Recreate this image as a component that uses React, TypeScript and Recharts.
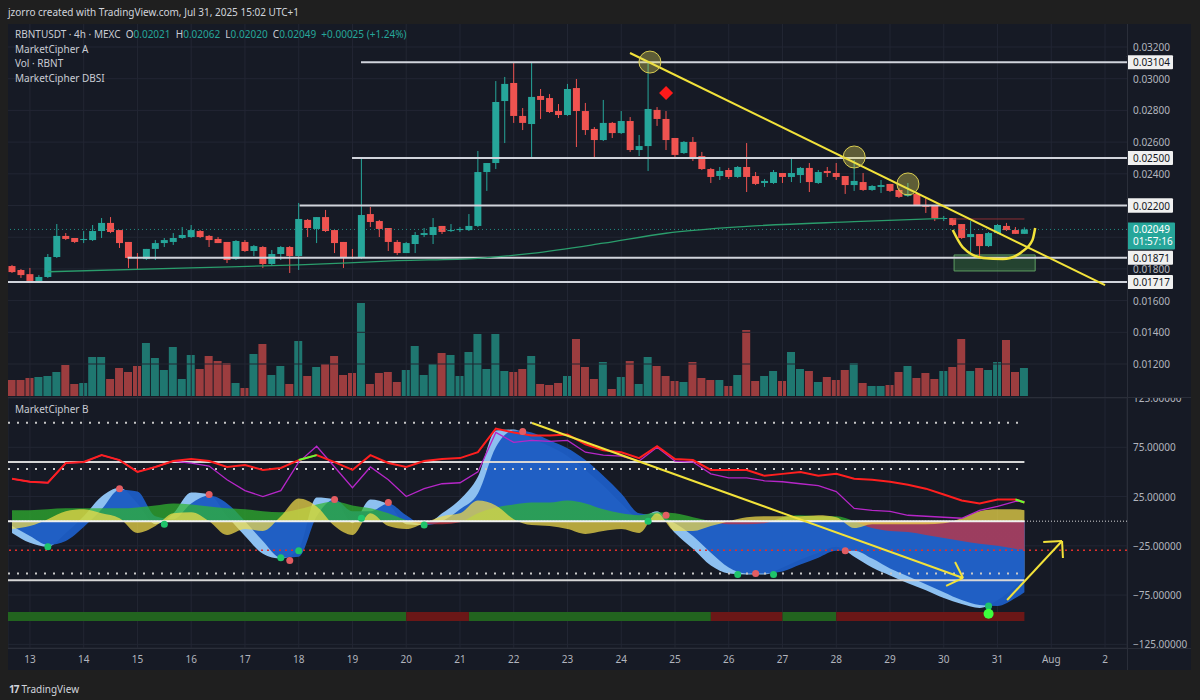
import React from "react";
import {
  Area,
  Bar,
  CartesianGrid,
  Cell,
  ComposedChart,
  Line,
  ReferenceArea,
  ReferenceDot,
  ReferenceLine,
  Scatter,
  XAxis,
  YAxis,
} from "recharts";

// 4h candles, RBNTUSDT, Jul 12 16:00 -> Jul 31 12:00 (index k)
const opens = [
  0.01818, 0.01793, 0.01767, 0.01717, 0.01749, 0.01875, 0.02008, 0.01995, 0.01982, 0.01982,
  0.02039, 0.0209, 0.02045, 0.0197, 0.01875, 0.01862, 0.01926, 0.01963, 0.0197, 0.01995,
  0.02001, 0.02039, 0.02008, 0.01989, 0.0197, 0.01862, 0.0197, 0.01913, 0.01938, 0.01831,
  0.01894, 0.01938, 0.01881, 0.02109, 0.02052, 0.02127, 0.02045, 0.0197, 0.01875, 0.01869,
  0.02146, 0.02102, 0.02058, 0.0197, 0.019, 0.01957, 0.02014, 0.02014, 0.02071, 0.02039,
  0.02045, 0.02045, 0.02071, 0.02411, 0.02468, 0.02859, 0.02973, 0.02765, 0.02714, 0.02891,
  0.02878, 0.02796, 0.02771, 0.02941, 0.02796, 0.02683, 0.02613, 0.02721, 0.02657, 0.02733,
  0.0255, 0.02575, 0.02803, 0.02746, 0.02626, 0.02531, 0.02601, 0.02512, 0.0243, 0.02386,
  0.02424, 0.0238, 0.02443, 0.02386, 0.02342, 0.02342, 0.02405, 0.0238, 0.02392, 0.02437,
  0.02342, 0.02418, 0.02405, 0.02386, 0.02329, 0.02348, 0.02298, 0.02317, 0.02336, 0.02298,
  0.0226, 0.02273, 0.02203, 0.02197, 0.02115, 0.02121, 0.02083, 0.02001, 0.0202, 0.01944,
  0.02026, 0.02071, 0.02045, 0.02021,
];
const highs = [
  0.01825, 0.01799, 0.01806, 0.01761, 0.01894, 0.02083, 0.02026, 0.01995, 0.02039, 0.02077,
  0.02121, 0.02127, 0.02045, 0.0197, 0.019, 0.01926, 0.01982, 0.01995, 0.02026, 0.02064,
  0.02077, 0.02045, 0.02014, 0.02001, 0.0197, 0.01982, 0.01982, 0.01951, 0.01944, 0.01919,
  0.01944, 0.01944, 0.02216, 0.02115, 0.02127, 0.02172, 0.02045, 0.0197, 0.01926, 0.025,
  0.02191, 0.02109, 0.02058, 0.01982, 0.0197, 0.02033, 0.02058, 0.02121, 0.02071, 0.02083,
  0.02064, 0.02146, 0.02544, 0.02468, 0.02985, 0.03011, 0.03099, 0.02815, 0.03099, 0.02935,
  0.02903, 0.0284, 0.02967, 0.02998, 0.02847, 0.02695, 0.02866, 0.02727, 0.02796, 0.02758,
  0.02645, 0.03105, 0.02821, 0.02796, 0.02626, 0.02607, 0.02632, 0.02538, 0.02437, 0.02443,
  0.02437, 0.02449, 0.02594, 0.02411, 0.02367, 0.02424, 0.02405, 0.025, 0.02443, 0.02468,
  0.02424, 0.02443, 0.02468, 0.02386, 0.02487, 0.02405, 0.02329, 0.02361, 0.02336, 0.0231,
  0.02342, 0.02285, 0.02247, 0.02197, 0.02134, 0.02121, 0.02083, 0.02102, 0.0202, 0.02033,
  0.02083, 0.0209, 0.02064, 0.02062,
];
const lows = [
  0.01774, 0.01743, 0.01717, 0.01711, 0.01743, 0.01869, 0.01982, 0.01963, 0.01963, 0.01976,
  0.01995, 0.02026, 0.01932, 0.01806, 0.01799, 0.01856, 0.01856, 0.01938, 0.01951, 0.01989,
  0.01995, 0.01995, 0.01938, 0.01963, 0.01837, 0.01856, 0.01907, 0.01881, 0.01806, 0.01818,
  0.01856, 0.01774, 0.01793, 0.02001, 0.01963, 0.02033, 0.019, 0.01806, 0.01862, 0.01862,
  0.02064, 0.02001, 0.01913, 0.01888, 0.019, 0.019, 0.02001, 0.01957, 0.0202, 0.02033,
  0.02033, 0.02039, 0.02064, 0.02292, 0.0243, 0.02594, 0.02721, 0.02676, 0.025, 0.02746,
  0.02784, 0.02752, 0.02765, 0.02569, 0.02645, 0.025, 0.02607, 0.02626, 0.02651, 0.02538,
  0.02512, 0.02418, 0.02702, 0.0255, 0.025, 0.02525, 0.02481, 0.02424, 0.02342, 0.02361,
  0.02367, 0.02374, 0.02285, 0.02329, 0.02317, 0.02336, 0.02342, 0.02348, 0.02342, 0.02285,
  0.02336, 0.0238, 0.02361, 0.02273, 0.02292, 0.02292, 0.02292, 0.02279, 0.02285, 0.02247,
  0.02254, 0.02197, 0.02153, 0.02102, 0.02102, 0.02071, 0.01989, 0.01907, 0.01875, 0.01938,
  0.0202, 0.02039, 0.0202, 0.0202,
];
const closes = [
  0.0178, 0.01761, 0.01724, 0.01749, 0.01875, 0.02008, 0.01989, 0.0197, 0.01989, 0.02039,
  0.0209, 0.02033, 0.01963, 0.01869, 0.01869, 0.01926, 0.01963, 0.01982, 0.01995, 0.02014,
  0.02045, 0.02001, 0.01982, 0.01963, 0.01856, 0.01976, 0.01913, 0.01944, 0.01831, 0.01894,
  0.01938, 0.01881, 0.02115, 0.02058, 0.02127, 0.02039, 0.01963, 0.01875, 0.01869, 0.0214,
  0.02096, 0.02052, 0.0197, 0.019, 0.01963, 0.02014, 0.02026, 0.02064, 0.02033, 0.02045,
  0.02052, 0.02071, 0.02411, 0.02468, 0.02853, 0.02967, 0.02765, 0.02721, 0.02885, 0.02866,
  0.0279, 0.02771, 0.02935, 0.02796, 0.02676, 0.02613, 0.02721, 0.02657, 0.02733, 0.0255,
  0.02575, 0.02809, 0.02746, 0.02613, 0.02519, 0.02601, 0.02506, 0.0243, 0.0238, 0.02418,
  0.0238, 0.02443, 0.0238, 0.02336, 0.02355, 0.02411, 0.0238, 0.02405, 0.02437, 0.02348,
  0.02411, 0.02405, 0.0238, 0.02329, 0.02355, 0.02298, 0.02323, 0.02329, 0.02292, 0.02254,
  0.02273, 0.02203, 0.02191, 0.02121, 0.02121, 0.02077, 0.01995, 0.0202, 0.01944, 0.02026,
  0.02077, 0.02045, 0.02021, 0.02049,
];
// volume (relative units)
const volumes = [
  16, 16, 18, 19, 20, 24, 31, 12, 13, 39, 39, 17, 28, 24, 30, 53, 38, 26, 49, 17,
  41, 27, 40, 35, 33, 13, 8, 42, 52, 21, 30, 12, 55, 20, 29, 32, 40, 21, 23, 93,
  12, 23, 24, 14, 26, 50, 21, 32, 43, 41, 20, 44, 62, 27, 62, 25, 24, 27, 40, 12,
  11, 13, 20, 57, 29, 17, 34, 7, 19, 35, 12, 39, 30, 20, 15, 14, 34, 18, 16, 16,
  10, 21, 66, 15, 20, 25, 15, 44, 27, 25, 14, 19, 16, 26, 33, 13, 10, 10, 11, 24,
  30, 18, 23, 17, 25, 29, 57, 25, 28, 26, 34, 56, 24, 28,
];

const dateTicks = [2, 8, 14, 20, 26, 32, 38, 44, 50, 56, 62, 68, 74, 80, 86, 92, 98, 104, 110, 116, 122];
const dateLabels = ["13", "14", "15", "16", "17", "18", "19", "20", "21", "22", "23", "24", "25", "26", "27", "28", "29", "30", "31", "Aug", "2"];

const priceTicks = [0.012, 0.014, 0.016, 0.018, 0.02, 0.022, 0.024, 0.026, 0.028, 0.03, 0.032];
const hiddenPriceLabels = [0.02, 0.022];
const levels = [0.03104, 0.025, 0.022, 0.01871, 0.01717];
const levelFrom = [38.95, 37.95, 32.1, 12.9, -0.45];
const lastPrice = 0.02049;
const countdown = "01:57:16";

// moving average
const maK = [4, 21, 32, 43, 52, 58, 66, 73, 82, 94, 104];
const maVals = [0.01782, 0.01808, 0.01825, 0.01852, 0.01867, 0.01898, 0.01962, 0.02025, 0.02068, 0.02098, 0.02119];

// drawings on price pane
const smileK = [105.0, 106.1, 108.4, 110.6, 112.7, 113.9, 114.2];
const smileP = [0.02045, 0.01938, 0.01869, 0.01862, 0.01907, 0.01982, 0.02058];
const circleK = [71.2, 94.0, 100.0];
const circleP = [0.03105, 0.02506, 0.02336];

// MarketCipher B (sampled every 2 bars)
const mcbIdx = [
  0, 2, 4, 6, 8, 10, 12, 14, 16, 18, 20, 22, 24, 26, 28, 30, 32, 34, 36, 38,
  40, 42, 44, 46, 48, 50, 52, 54, 56, 58, 60, 62, 64, 66, 68, 70, 72, 74, 76, 78,
  80, 82, 84, 86, 88, 90, 92, 94, 96, 98, 100, 102, 104, 106, 108, 110, 112, 113,
];
const wt1 = [
  -12, -22, -26, -12, 5, 25, 34, 18, -3, 8, 29, 27, 5, -15, -33, -38, -28, 24, 22, -2,
  22, 17, -3, -4, 8, 22, 45, 92, 93, 84, 76, 66, 52, 36, 18, 3, 10, -12, -28, -45,
  -53, -54, -54, -47, -39, -32, -26, -36, -47, -55, -63, -70, -78, -84, -88, -80, -66, -57,
];
const wt2 = [
  -5, -15, -24, -20, -6, 12, 32, 30, 5, 2, 18, 26, 18, 0, -20, -37, -36, 5, 22, 10,
  10, 18, 6, -4, 0, 12, 28, 75, 92, 90, 82, 74, 62, 46, 28, 8, 6, -2, -15, -32,
  -47, -53, -53, -51, -44, -37, -30, -30, -38, -48, -56, -64, -72, -80, -85, -86, -78, -72,
];
const moneyFlow = [
  11, 11, 12, 13, 13, 13, 13, 14, 16, 18, 17, 15, 13, 12, 10, 9, 12, 17, 20, 16,
  13, 8, 1, -3, -3, -1, 8, 14, 17, 19, 19, 21, 18, 12, 8, 6, 9, 8, 4, 0,
  -3, -3, -2, 4, 6, 5, 5, 0, -7, -10, -11, -14, -17, -20, -23, -25, -28, -29,
];
const vwap = [
  -8, -5, 2, 10, 12, 8, 3, -12, -5, 8, 9, 0, -14, -8, -10, 5, 23, 15, -5, -14,
  8, -5, -8, -2, 5, 8, 21, 16, 2, -4, -5, -8, -13, -10, -8, -12, 8, -10, -10, -5,
  0, 4, 5, 5, 5, 6, 4, -7, -3, -3, -3, -3, -2, 3, 10, 12, 12, 11,
];
const stochK = [
  43, 40, 39, 59, 60, 67, 62, 50, 55, 61, 63, 61, 55, 57, 52, 54, 62, 67, 60, 52,
  67, 59, 55, 61, 63, 64, 70, 94, 90, 87, 87, 88, 78, 72, 70, 64, 76, 63, 62, 52,
  52, 52, 46, 48, 50, 46, 48, 43, 42, 40, 37, 33, 27, 21, 18, 22, 22, 19,
];
const rsi = [
  43, 40, 39, 59, 60, 67, 62, 50, 55, 61, 59, 56, 42, 31, 25, 31, 60, 76, 55, 34,
  55, 42, 25, 33, 38, 39, 50, 90, 80, 82, 81, 82, 70, 67, 66, 61, 75, 61, 60, 48,
  44, 44, 41, 40, 38, 36, 30, 13, 11, 10, 6, 5, 4, 3, 11, 15, 20, 20,
];
const stochGreenAt = [32, 34, 112, 113];
const mcbTicks = [125, 75, 25, -25, -75, -125];

const dotK = [4, 12, 17, 22, 30, 31, 32, 36, 39, 42, 46, 57, 71, 73, 81, 83, 85, 93, 109];
const dotV = [-26, 33, -3, 27, -37, -40, -30, 22, 3, 19, -4, 91, 0, 6, -54, -53, -54, -30, -86];
const dotUp = [true, false, true, false, true, false, true, false, true, false, true, false, true, false, true, false, true, false, true];

const stripEdges = [-0.45, 44, 51, 78, 86, 92, 113];
const stripBull = [true, false, true, false, true, false];

const BG = "#161a25";
const OUTER = "#1f1f1f";
const GRID = "#222633";
const FRAME = "#2a2e39";
const UP = "#26a69a";
const DOWN = "#ef5350";
const VOL_UP = "#1f7770";
const VOL_DOWN = "#9c3d3f";
const TEXT = "#c9ccd4";
const AXIS_TEXT = "#b2b5be";
const LEVEL = "#d1d4dc";
const YELLOW = "#f2e23a";
const FONT = "'Noto Sans', 'DejaVu Sans', sans-serif";
const FS = 10;

const CHART_W = 1183;
const AXIS_W = 64;
const PLOT_W = CHART_W - AXIS_W;
const X_DOMAIN: [number, number] = [-0.45, 124.45];
const PRICE_DOMAIN: [number, number] = [0.009855, 0.033451];
const VOL_DOMAIN: [number, number] = [-2, 372];
const CIPHER_DOMAIN: [number, number] = [-128.7, 125];

const Candle = (props: any) => {
  const { x, y, width, height, payload } = props;
  if (!payload) return null;
  const { open, close, high, low } = payload;
  const top = Math.min(y, y + height);
  const h = Math.abs(height);
  const color = close >= open ? UP : DOWN;
  const cx = x + width / 2;
  const pxPer = high > low ? h / (high - low) : 0;
  const yO = top + (high - open) * pxPer;
  const yC = top + (high - close) * pxPer;
  const bodyTop = Math.min(yO, yC);
  const bodyH = Math.max(1, Math.abs(yO - yC));
  return (
    <g>
      <line x1={cx} x2={cx} y1={top} y2={top + h} stroke={color} strokeWidth={1} />
      <rect x={cx - 3.5} y={bodyTop} width={7} height={bodyH} fill={color} />
    </g>
  );
};

const renderPriceTick = (props: any) => {
  const { y, payload } = props;
  const v = payload.value;
  if (v === lastPrice) {
    return (
      <g>
        <rect x={PLOT_W} y={y - 7} width={48} height={27} fill={UP} rx={1} />
        <text x={PLOT_W + 6} y={y} dy={4} fill="#ffffff" fontSize={FS} fontFamily={FONT}>
          {v.toFixed(5)}
        </text>
        <text x={PLOT_W + 6} y={y + 12} dy={4} fill="#ffffff" fontSize={FS} fontFamily={FONT}>
          {countdown}
        </text>
      </g>
    );
  }
  if (levels.includes(v)) {
    return (
      <g>
        <rect x={PLOT_W} y={y - 7} width={46} height={14} fill="#f0f0f0" rx={1} />
        <text x={PLOT_W + 6} y={y} dy={4} fill="#131722" fontSize={FS} fontFamily={FONT}>
          {v.toFixed(5)}
        </text>
      </g>
    );
  }
  if (hiddenPriceLabels.includes(v)) return <g />;
  return (
    <text x={PLOT_W + 6} y={y} dy={4} fill={AXIS_TEXT} fontSize={FS} fontFamily={FONT}>
      {v.toFixed(5)}
    </text>
  );
};

const renderCipherTick = (props: any) => {
  const { y, payload } = props;
  const v = payload.value;
  const s = (v < 0 ? "\u2212" : "") + Math.abs(v).toFixed(5);
  return (
    <text x={PLOT_W + 6} y={y} dy={4} fill={AXIS_TEXT} fontSize={FS} fontFamily={FONT}>
      {s}
    </text>
  );
};

const renderDateTick = (props: any) => {
  const { x, y, payload } = props;
  const i = dateTicks.indexOf(payload.value);
  return (
    <text x={x} y={y} dy="0.71em" textAnchor="middle" fill={AXIS_TEXT} fontSize={FS} fontFamily={FONT}>
      {dateLabels[i]}
    </text>
  );
};

const Diamond = (props: any) => {
  const { cx, cy } = props;
  return <polygon points={`${cx},${cy - 7} ${cx + 7},${cy} ${cx},${cy + 7} ${cx - 7},${cy}`} fill="#ff1a1a" />;
};

export default function App() {
  const candles = opens.map((o, i) => ({
    k: i,
    open: o,
    high: highs[i],
    low: lows[i],
    close: closes[i],
    range: [lows[i], highs[i]],
    vol: volumes[i],
  }));
  const maData = maK.map((k, i) => ({ k, ma: maVals[i] }));
  const smileData = smileK.map((k, i) => ({ k, p: smileP[i] }));
  const mcb = mcbIdx.map((k, i) => ({
    k,
    wt1: wt1[i],
    wt2: wt2[i],
    mf: moneyFlow[i],
    vwap: vwap[i],
    stoch: stochK[i],
    rsi: rsi[i],
    stochUp: stochGreenAt.includes(k) ? stochK[i] : null,
  }));
  const dotsUp = dotK.map((k, i) => ({ k, v: dotV[i] })).filter((_, i) => dotUp[i]);
  const dotsDown = dotK.map((k, i) => ({ k, v: dotV[i] })).filter((_, i) => !dotUp[i]);

  const mfMax = Math.max(...moneyFlow, 0);
  const mfMin = Math.min(...moneyFlow, 0);
  const mfOffset = mfMax / (mfMax - mfMin);

  const legendRow = { height: 14.5, whiteSpace: "nowrap" as const };

  return (
    <div style={{ position: "relative", width: 1200, height: 700, background: OUTER, fontFamily: FONT, overflow: "hidden" }}>
      <style>{"body{margin:0;background:#1f1f1f}"}</style>
      <div style={{ position: "absolute", left: 8, top: 5, fontSize: FS, color: "#d1d4dc", whiteSpace: "nowrap" }}>
        jzorro created with TradingView.com, Jul 31, 2025 15:02 UTC+1
      </div>
      <div style={{ position: "absolute", left: 8, top: 24, width: CHART_W, height: 646, background: BG }} />

      {/* volume + grid layer */}
      <div style={{ position: "absolute", left: 8, top: 24 }}>
        <ComposedChart width={CHART_W} height={374} data={candles} margin={{ top: 0, right: AXIS_W, bottom: 0, left: 0 }}>
          <XAxis type="number" dataKey="k" domain={X_DOMAIN} allowDataOverflow hide />
          <YAxis yAxisId="p" type="number" domain={PRICE_DOMAIN} allowDataOverflow hide />
          <YAxis yAxisId="v" type="number" domain={VOL_DOMAIN} allowDataOverflow hide />
          {priceTicks.map((p) => <ReferenceLine key={"h" + p} yAxisId="p" y={p} stroke={GRID} />)}
          {dateTicks.map((k) => <ReferenceLine key={"v" + k} yAxisId="p" x={k} stroke={GRID} />)}
          <Bar yAxisId="v" dataKey="vol" barSize={8} isAnimationActive={false}>
            {candles.map((c) => <Cell key={c.k} fill={c.close >= c.open ? VOL_UP : VOL_DOWN} />)}
          </Bar>
        </ComposedChart>
      </div>

      {/* price layer */}
      <div style={{ position: "absolute", left: 8, top: 24 }}>
        <ComposedChart width={CHART_W} height={374} data={candles} margin={{ top: 0, right: 0, bottom: 0, left: 0 }}>
          <XAxis type="number" dataKey="k" domain={X_DOMAIN} allowDataOverflow hide />
          <YAxis
            type="number"
            orientation="right"
            width={AXIS_W}
            domain={PRICE_DOMAIN}
            allowDataOverflow
            ticks={[...priceTicks, ...levels, lastPrice]}
            interval={0}
            tick={renderPriceTick}
            tickLine={false}
            axisLine={false}
          />
          <ReferenceLine y={lastPrice} stroke={UP} strokeDasharray="1 3" strokeOpacity={0.8} />
          {levels.map((p, i) => (
            <ReferenceLine
              key={"lv" + p}
              segment={[{ x: levelFrom[i], y: p }, { x: X_DOMAIN[1], y: p }]}
              stroke={LEVEL}
              strokeWidth={2}
              ifOverflow="visible"
            />
          ))}
          <Line data={maData} dataKey="ma" type="monotone" stroke="#2a9d6c" strokeWidth={1.3} dot={false} isAnimationActive={false} />
          <ReferenceLine segment={[{ x: 105, y: 0.02115 }, { x: 113, y: 0.02115 }]} stroke="#8c2f33" ifOverflow="visible" />
          <Bar dataKey="range" barSize={7} shape={<Candle />} isAnimationActive={false} />
          <ReferenceArea
            x1={105.15}
            x2={114.2}
            y1={0.01787}
            y2={0.01888}
            fill="#4caf50"
            fillOpacity={0.28}
            stroke="#5e9e62"
            ifOverflow="visible"
          />
          <ReferenceLine
            segment={[{ x: 68.98, y: 0.03162 }, { x: 122.0, y: 0.01698 }]}
            stroke={YELLOW}
            strokeWidth={2}
            ifOverflow="visible"
          />
          {circleK.map((k, i) => (
            <ReferenceDot
              key={"c" + k}
              x={k}
              y={circleP[i]}
              r={11}
              fill="#e6dc55"
              fillOpacity={0.35}
              stroke="#d8cc50"
              ifOverflow="visible"
            />
          ))}
          <ReferenceDot x={73.0} y={0.0291} r={7} shape={<Diamond />} ifOverflow="visible" />
          <Line data={smileData} dataKey="p" type="monotone" stroke={YELLOW} strokeWidth={2.5} dot={false} isAnimationActive={false} />
        </ComposedChart>
      </div>

      {/* MarketCipher B */}
      <div style={{ position: "absolute", left: 8, top: 398 }}>
        <ComposedChart width={CHART_W} height={272} data={mcb} margin={{ top: 0, right: 0, bottom: 0, left: 0 }}>
          <defs>
            <linearGradient id="mfSplit" x1="0" y1="0" x2="0" y2="1">
              <stop offset={0} stopColor="#2fb52f" />
              <stop offset={mfOffset} stopColor="#2fb52f" />
              <stop offset={mfOffset} stopColor="#cc3038" />
              <stop offset={1} stopColor="#cc3038" />
            </linearGradient>
          </defs>
          <CartesianGrid stroke={GRID} />
          <XAxis
            type="number"
            dataKey="k"
            domain={X_DOMAIN}
            allowDataOverflow
            ticks={dateTicks}
            interval={0}
            tick={renderDateTick}
            tickLine={false}
            axisLine={false}
            height={22}
          />
          <YAxis
            type="number"
            orientation="right"
            width={AXIS_W}
            domain={CIPHER_DOMAIN}
            allowDataOverflow
            ticks={mcbTicks}
            interval={0}
            tick={renderCipherTick}
            tickLine={false}
            axisLine={false}
          />
          {stripBull.map((b, i) => (
            <ReferenceArea
              key={"s" + i}
              x1={stripEdges[i]}
              x2={stripEdges[i + 1]}
              y1={-101.3}
              y2={-92.1}
              fill={b ? "#22641f" : "#6b1717"}
              fillOpacity={1}
              stroke="none"
              ifOverflow="hidden"
            />
          ))}
          <Area dataKey="wt1" type="monotone" baseValue={0} fill="#93c9fb" fillOpacity={0.95} stroke="none" isAnimationActive={false} />
          <Area dataKey="wt2" type="monotone" baseValue={0} fill="#1d5cc2" fillOpacity={0.97} stroke="none" isAnimationActive={false} />
          <Area dataKey="mf" type="monotone" baseValue={0} fill="url(#mfSplit)" fillOpacity={0.72} stroke="none" isAnimationActive={false} />
          <Area dataKey="vwap" type="monotone" baseValue={0} fill="#f3dc4a" fillOpacity={0.72} stroke="none" isAnimationActive={false} />
          <ReferenceLine segment={[{ x: -0.45, y: 100 }, { x: 113, y: 100 }]} stroke="#c8c8c8" strokeWidth={2} strokeDasharray="2 7" />
          <ReferenceLine segment={[{ x: -0.45, y: 60 }, { x: 113, y: 60 }]} stroke="#d6d6d6" strokeWidth={2} />
          <ReferenceLine segment={[{ x: -0.45, y: 53 }, { x: 113, y: 53 }]} stroke="#c8c8c8" strokeWidth={2} strokeDasharray="2 7" />
          <ReferenceLine y={0} stroke="#d6d6d6" strokeDasharray="1 2" />
          <ReferenceLine segment={[{ x: -0.45, y: 0 }, { x: 113, y: 0 }]} stroke="#f0f0f0" strokeWidth={2} />
          <ReferenceLine y={-29.5} stroke="#e0302a" strokeWidth={1.5} strokeDasharray="2 4" />
          <ReferenceLine segment={[{ x: -0.45, y: -53 }, { x: 113, y: -53 }]} stroke="#c8c8c8" strokeWidth={2} strokeDasharray="2 7" />
          <ReferenceLine segment={[{ x: -0.45, y: -60 }, { x: 113, y: -60 }]} stroke="#d6d6d6" strokeWidth={2} />
          <Line dataKey="rsi" type="linear" stroke="#b626c8" strokeWidth={1.3} dot={false} isAnimationActive={false} />
          <Line dataKey="stoch" type="linear" stroke="#ff1f1f" strokeWidth={2} dot={false} isAnimationActive={false} />
          <Line dataKey="stochUp" type="linear" stroke="#66ff33" strokeWidth={2} dot={false} connectNulls={false} isAnimationActive={false} />
          <Scatter
            data={dotsDown}
            dataKey="v"
            isAnimationActive={false}
            shape={(p: any) => <circle cx={p.cx} cy={p.cy} r={3.5} fill="#e35d62" />}
          />
          <Scatter
            data={dotsUp}
            dataKey="v"
            isAnimationActive={false}
            shape={(p: any) => <circle cx={p.cx} cy={p.cy} r={3.5} fill="#1fc46a" />}
          />
          <ReferenceDot x={109} y={-94} r={5} fill="#3dff3d" stroke="none" />
          <ReferenceLine segment={[{ x: 58.04, y: 99.6 }, { x: 106.15, y: -57.6 }]} stroke={YELLOW} strokeWidth={2} ifOverflow="visible" />
          <ReferenceLine segment={[{ x: 105.26, y: -41.4 }, { x: 106.15, y: -57.6 }]} stroke={YELLOW} strokeWidth={2} ifOverflow="visible" />
          <ReferenceLine segment={[{ x: 104.26, y: -65.7 }, { x: 106.15, y: -57.6 }]} stroke={YELLOW} strokeWidth={2} ifOverflow="visible" />
          <ReferenceLine segment={[{ x: 111.07, y: -80 }, { x: 117.2, y: -20.1 }]} stroke={YELLOW} strokeWidth={2} ifOverflow="visible" />
          <ReferenceLine segment={[{ x: 115.1, y: -21.1 }, { x: 117.2, y: -20.1 }]} stroke={YELLOW} strokeWidth={2} ifOverflow="visible" />
          <ReferenceLine segment={[{ x: 117.3, y: -37.3 }, { x: 117.2, y: -20.1 }]} stroke={YELLOW} strokeWidth={2} ifOverflow="visible" />
        </ComposedChart>
      </div>

      {/* frame lines */}
      <div style={{ position: "absolute", left: 1127, top: 24, width: 1, height: 646, background: FRAME }} />
      <div style={{ position: "absolute", left: 8, top: 397, width: CHART_W, height: 1, background: FRAME }} />
      <div style={{ position: "absolute", left: 8, top: 648, width: CHART_W, height: 1, background: FRAME }} />

      {/* legends */}
      <div style={{ position: "absolute", left: 15, top: 27, fontSize: FS, color: TEXT, lineHeight: "14.5px" }}>
        <div style={legendRow}>
          RBNTUSDT · 4h · MEXC&nbsp;&nbsp;O<span style={{ color: UP }}>0.02021</span>&nbsp;&nbsp;H
          <span style={{ color: UP }}>0.02062</span>&nbsp;&nbsp;L<span style={{ color: UP }}>0.02020</span>&nbsp;&nbsp;C
          <span style={{ color: UP }}>0.02049</span>&nbsp;&nbsp;<span style={{ color: UP }}>+0.00025 (+1.24%)</span>
        </div>
        <div style={legendRow}>MarketCipher A</div>
        <div style={legendRow}>Vol · RBNT</div>
        <div style={legendRow}>MarketCipher DBSI</div>
      </div>
      <div style={{ position: "absolute", left: 15, top: 402, fontSize: FS, color: TEXT }}>MarketCipher B</div>

      {/* footer */}
      <div style={{ position: "absolute", left: 9, top: 682, fontSize: FS, color: "#d1d4dc", whiteSpace: "nowrap" }}>
        <span style={{ fontWeight: 700, letterSpacing: -1, marginRight: 3 }}>17</span>TradingView
      </div>
    </div>
  );
}
